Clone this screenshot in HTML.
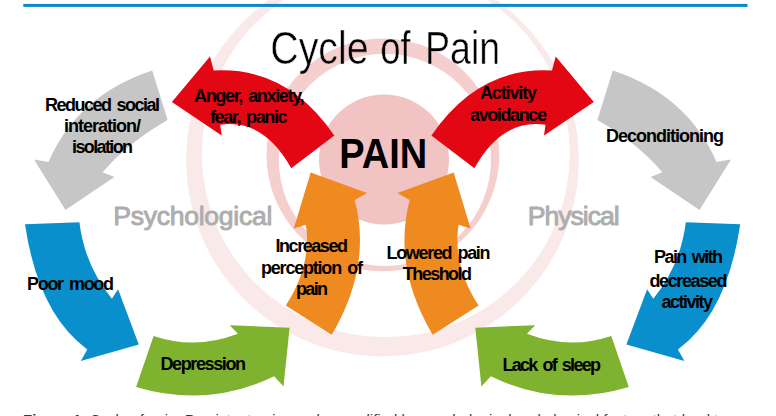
<!DOCTYPE html>
<html><head><meta charset="utf-8"><title>Cycle of Pain</title>
<style>
html,body{margin:0;padding:0;background:#fff;}
body{width:776px;height:416px;overflow:hidden;position:relative;font-family:"Liberation Sans",sans-serif;}
svg{position:absolute;left:0;top:0;display:block;}
svg text{font-family:"Liberation Sans",sans-serif;}
.cap{position:absolute;left:23px;top:411.2px;font-size:15px;white-space:nowrap;color:#3a3a3a;}
</style></head><body>
<svg width="776" height="416" viewBox="0 0 776 416">

<path fill="#fae9e9" fill-rule="evenodd" d="M186.2,160 a196.3,196.3 0 1,0 392.6,0 a196.3,196.3 0 1,0 -392.6,0 Z M201.8,153.2 a184,184 0 1,0 368.0,0 a184,184 0 1,0 -368.0,0 Z"/>
<path fill="#f5cece" fill-rule="evenodd" d="M266.5,154.8 a116.4,116.4 0 1,0 232.8,0 a116.4,116.4 0 1,0 -232.8,0 Z M278.8,159.9 a106.1,106.1 0 1,0 212.2,0 a106.1,106.1 0 1,0 -212.2,0 Z"/>
<circle cx="384" cy="159.5" r="65" fill="#f1c3c3"/>
<rect x="23.3" y="3.9" width="724.2" height="3" fill="#0d87cb"/>

<path d="M152.2,70.6 L167.6,120 Q127.5,143 102.6,172.3 L114.4,177 L65.5,210 L34,159.5 L48.5,161.9 Q78,95 152.2,70.6 Z" fill="#c6c6c6"/>
<path d="M152.2,70.6 L167.6,120 Q127.5,143 102.6,172.3 L114.4,177 L65.5,210 L34,159.5 L48.5,161.9 Q78,95 152.2,70.6 Z" fill="#c6c6c6" transform="translate(765,0) scale(-1,1)"/>
<path d="M25,224.2 L79.4,222.3 Q84.6,265.2 111.9,298.8 L118.1,289.2 L138.8,344.6 L80.8,361 L87.3,349.4 Q38.2,313.6 25,224.2 Z" fill="#0a8fcd"/>
<path d="M25,224.2 L79.4,222.3 Q84.6,265.2 111.9,298.8 L118.1,289.2 L138.8,344.6 L80.8,361 L87.3,349.4 Q38.2,313.6 25,224.2 Z" fill="#0a8fcd" transform="translate(765.2,0) scale(-1,1)"/>
<path d="M153.6,336 L136.1,387 Q208,408.5 274.1,376.3 L283.5,386.5 L289.6,327.7 L229.7,325.2 L237.9,333.8 Q195.5,350.1 153.6,336 Z" fill="#7fb32f"/>
<path d="M153.6,336 L136.1,387 Q208,408.5 274.1,376.3 L283.5,386.5 L289.6,327.7 L229.7,325.2 L237.9,333.8 Q195.5,350.1 153.6,336 Z" fill="#7fb32f" transform="translate(764.9,0) scale(-1,1)"/>
<path d="M310.7,172.6 L367,193.1 L354.7,200.1 Q372.2,266.3 331.7,334.8 L285.8,305.5 C306,275 309.5,245 305.7,224.7 L293.8,228.6 Z" fill="#ee8a1f"/>
<path d="M310.7,172.6 L367,193.1 L354.7,200.1 Q372.2,266.3 331.7,334.8 L285.8,305.5 C306,275 309.5,245 305.7,224.7 L293.8,228.6 Z" fill="#ee8a1f" transform="translate(764.4,0) scale(-1,1)"/>
<path d="M171.9,102 L210,56.5 L213.7,70.6 Q287,66.3 334.3,135.6 L291.3,168.2 Q263.5,118.4 220.2,124.7 L221.7,135.5 Z" fill="#e30613"/>
<path d="M171.9,102 L210,56.5 L213.7,70.6 Q287,66.3 334.3,135.6 L291.3,168.2 Q263.5,118.4 220.2,124.7 L221.7,135.5 Z" fill="#e30613" transform="translate(765.7,0) scale(-1,1)"/>

<mask id="tm" maskUnits="userSpaceOnUse" x="260" y="20" width="250" height="70"><g font-size="45.5" fill="#fff" stroke="#000" stroke-width="0.7">
<text x="270.2" y="63.9" textLength="98.5" lengthAdjust="spacingAndGlyphs">Cycle</text>
<text x="380.2" y="63.9" textLength="30.4" lengthAdjust="spacingAndGlyphs">of</text>
<text x="425.0" y="63.9" textLength="75.2" lengthAdjust="spacingAndGlyphs">Pain</text></g></mask>
<rect x="260" y="20" width="250" height="70" fill="#000" mask="url(#tm)"/>
<text x="45" y="110.5" font-size="18" font-weight="bold" fill="#000" textLength="115" lengthAdjust="spacing" word-spacing="2.5" >Reduced social</text>
<text x="64" y="132.0" font-size="18" font-weight="bold" fill="#000" textLength="77" lengthAdjust="spacing" word-spacing="2.5" >interation/</text>
<text x="72" y="153.25" font-size="18" font-weight="bold" fill="#000" textLength="61" lengthAdjust="spacing" word-spacing="2.5" >isolation</text>
<text x="194" y="101.5" font-size="18" font-weight="bold" fill="#000" textLength="110.5" lengthAdjust="spacing" word-spacing="2.5" >Anger, anxiety,</text>
<text x="210" y="123.0" font-size="18" font-weight="bold" fill="#000" textLength="77.5" lengthAdjust="spacing" word-spacing="2.5" >fear, panic</text>
<text x="480" y="99.25" font-size="18" font-weight="bold" fill="#000" textLength="57" lengthAdjust="spacing" word-spacing="2.5" >Activity</text>
<text x="470" y="121.0" font-size="18" font-weight="bold" fill="#000" textLength="77" lengthAdjust="spacing" word-spacing="2.5" >avoidance</text>
<text x="606" y="141.5" font-size="18" font-weight="bold" fill="#000" textLength="118" lengthAdjust="spacing" word-spacing="2.5" >Deconditioning</text>
<text x="27" y="289.5" font-size="18" font-weight="bold" fill="#000" textLength="87" lengthAdjust="spacing" word-spacing="2.5" >Poor mood</text>
<text x="160.5" y="370.0" font-size="18" font-weight="bold" fill="#000" textLength="85.5" lengthAdjust="spacing" word-spacing="2.5" >Depression</text>
<text x="275.5" y="251.5" font-size="18" font-weight="bold" fill="#000" textLength="72.5" lengthAdjust="spacing" word-spacing="2.5" >Increased</text>
<text x="261" y="273.5" font-size="18" font-weight="bold" fill="#000" textLength="102" lengthAdjust="spacing" word-spacing="2.5" >perception of</text>
<text x="296" y="295.0" font-size="18" font-weight="bold" fill="#000" textLength="32" lengthAdjust="spacing" word-spacing="2.5" >pain</text>
<text x="386.5" y="258.5" font-size="18" font-weight="bold" fill="#000" textLength="104.0" lengthAdjust="spacing" word-spacing="2.5" >Lowered pain</text>
<text x="402.8" y="279.5" font-size="18" font-weight="bold" fill="#000" textLength="69.2" lengthAdjust="spacing" word-spacing="2.5" >Theshold</text>
<text x="654" y="263.0" font-size="18" font-weight="bold" fill="#000" textLength="69" lengthAdjust="spacing" word-spacing="2.5" >Pain with</text>
<text x="649.5" y="286.5" font-size="18" font-weight="bold" fill="#000" textLength="78.0" lengthAdjust="spacing" word-spacing="2.5" >decreased</text>
<text x="661.5" y="307.5" font-size="18" font-weight="bold" fill="#000" textLength="51.5" lengthAdjust="spacing" word-spacing="2.5" >activity</text>
<text x="502.5" y="371.0" font-size="18" font-weight="bold" fill="#000" textLength="98.5" lengthAdjust="spacing" word-spacing="2.5" >Lack of sleep</text>
<text x="113.2" y="225.2" font-size="26.6" font-weight="normal" fill="#adadad" textLength="159.2" lengthAdjust="spacing" word-spacing="2.5" stroke="#adadad" stroke-width="0.9">Psychological</text>
<text x="527.8" y="225.2" font-size="26.6" font-weight="normal" fill="#adadad" textLength="91.8" lengthAdjust="spacing" word-spacing="2.5" stroke="#adadad" stroke-width="0.9">Physical</text>
<text x="339.3" y="167.8" font-size="42.5" font-weight="bold" fill="#000" textLength="88.0" lengthAdjust="spacingAndGlyphs" word-spacing="2.5" >PAIN</text>
</svg>
<div class="cap"><b>Figure 1.</b> Cycle of pain. Persistent pain can be amplified by psychological and physical factors that lead to more pain</div>
</body></html>
